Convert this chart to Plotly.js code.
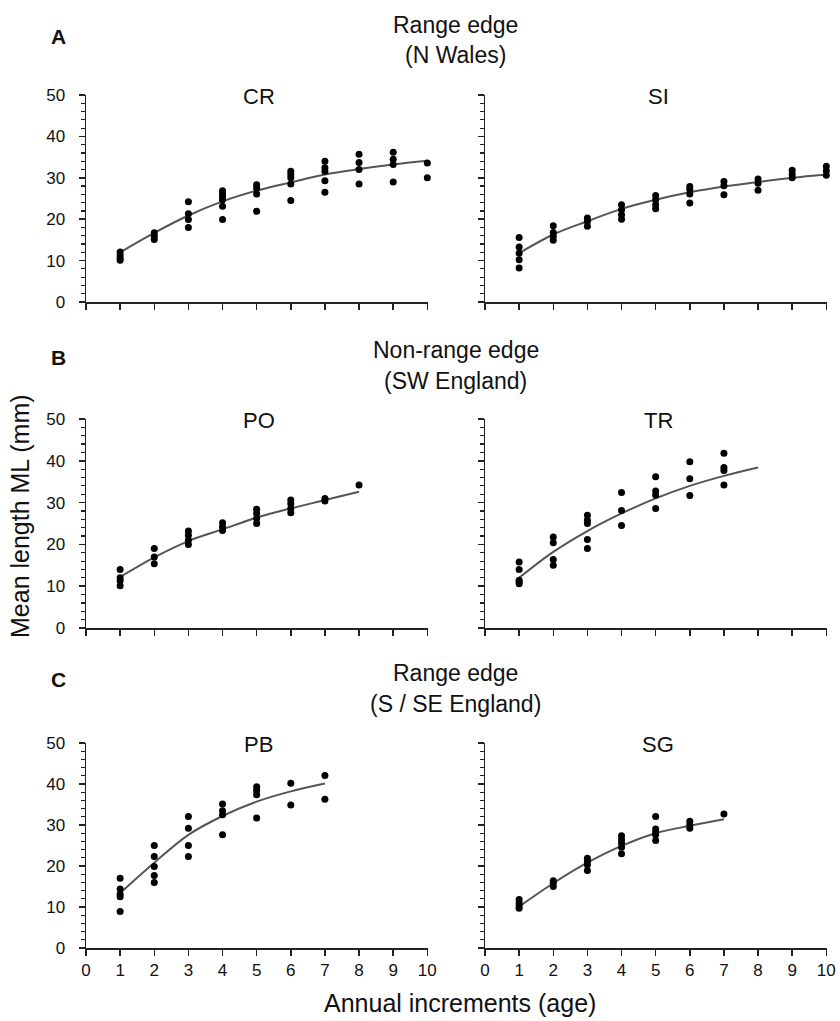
<!DOCTYPE html>
<html><head><meta charset="utf-8">
<script src="https://cdn.plot.ly/plotly-3.0.1.min.js"></script>
<style>html,body{margin:0;padding:0;background:#fff}#chart{width:840px;height:1021px}</style>
</head><body><div id="chart"></div>
<script>
// ---- Data (age in years, mean length ML in mm) ----
const crAge = [1,1,1,1, 2,2,2, 3,3,3,3, 4,4,4,4,4,4, 5,5,5,5, 6,6,6,6,6, 7,7,7,7,7, 8,8,8,8, 9,9,9,9, 10,10];
const crML  = [12.1,11.3,10.6,10.1, 16.7,15.9,15.1, 24.2,21.3,19.9,18.0, 26.9,26.1,25.4,24.7,23.1,19.9, 28.3,27.5,26.1,21.9, 31.6,30.8,30.0,28.5,24.5, 34.0,32.4,31.6,29.3,26.5, 35.7,33.7,32.0,28.5, 36.2,34.5,33.2,29.0, 33.6,30.0];
const crFitAge = [1,2,3,4,5,6,7,8,9,10];
const crFit    = [12.0,16.7,20.9,24.3,26.9,28.9,30.8,32.1,33.2,34.1];

const siAge = [1,1,1,1,1, 2,2,2,2, 3,3,3, 4,4,4,4, 5,5,5,5, 6,6,6,6, 7,7,7, 8,8,8, 9,9,9, 10,10,10];
const siML  = [15.6,13.3,11.8,10.2,8.2, 18.4,16.8,15.9,14.9, 20.3,19.5,18.3, 23.5,22.3,21.1,20.0, 25.7,24.7,23.5,22.5, 27.9,27.1,26.1,23.9, 29.1,28.1,25.9, 29.7,28.7,27.0, 31.8,30.8,30.0, 32.8,31.7,30.6];
const siFitAge = [1,2,3,4,5,6,7,8,9,10];
const siFit    = [11.8,16.3,19.5,22.5,24.7,26.5,27.9,29.0,30.0,30.8];

const poAge = [1,1,1,1, 2,2,2, 3,3,3,3, 4,4,4, 5,5,5,5, 6,6,6,6, 7,7, 8];
const poML  = [14.0,12.0,11.3,10.1, 19.0,17.0,15.4, 23.2,22.2,21.0,20.0, 25.2,24.2,23.3, 28.4,27.4,26.2,25.0, 30.6,29.7,28.6,27.6, 31.0,30.4, 34.2];
const poFitAge = [1,2,3,4,5,6,7,8];
const poFit    = [12.2,16.9,20.8,23.6,26.4,28.6,30.6,32.6];

const trAge = [1,1,1,1,1, 2,2,2,2, 3,3,3,3,3, 4,4,4, 5,5,5,5, 6,6,6, 7,7,7,7];
const trML  = [15.8,14.0,11.4,11.0,10.6, 21.8,20.4,16.4,15.0, 27.0,25.8,25.0,21.2,19.0, 32.4,28.1,24.5, 36.2,32.8,31.8,28.6, 39.8,35.7,31.7, 41.8,38.4,37.7,34.2];
const trFitAge = [1,2,3,4,5,6,7,8];
const trFit    = [12.0,18.2,23.2,27.4,31.0,34.0,36.4,38.4];

const pbAge = [1,1,1,1,1, 2,2,2,2,2, 3,3,3,3, 4,4,4,4, 5,5,5,5, 6,6, 7,7];
const pbML  = [17.0,14.4,13.1,12.5,8.9, 25.0,22.3,19.9,17.7,16.0, 32.1,29.2,25.0,22.3, 35.1,33.5,32.5,27.6, 39.3,38.4,37.4,31.7, 40.2,34.9, 42.1,36.3];
const pbFitAge = [1,2,3,4,5,6,7];
const pbFit    = [13.4,20.8,27.6,32.2,35.7,38.2,40.1];

const sgAge = [1,1,1,1, 2,2,2, 3,3,3,3, 4,4,4,4,4, 5,5,5,5,5, 6,6,6, 7];
const sgML  = [11.8,11.0,10.3,9.7, 16.4,15.8,15.0, 21.9,21.1,20.3,18.9, 27.4,26.4,25.6,24.6,23.0, 32.1,29.0,28.2,27.6,26.2, 30.9,30.0,29.2, 32.7];
const sgFitAge = [1,2,3,4,5,6,7];
const sgFit    = [10.1,15.8,20.8,24.9,28.0,29.8,31.4];

const xTickVals = [0,1,2,3,4,5,6,7,8,9,10];
const yTickVals = [0,10,20,30,40,50];

const panels = [
  {name:'CR', age:crAge, ml:crML, fa:crFitAge, fv:crFit, ax:''},
  {name:'SI', age:siAge, ml:siML, fa:siFitAge, fv:siFit, ax:'2'},
  {name:'PO', age:poAge, ml:poML, fa:poFitAge, fv:poFit, ax:'3'},
  {name:'TR', age:trAge, ml:trML, fa:trFitAge, fv:trFit, ax:'4'},
  {name:'PB', age:pbAge, ml:pbML, fa:pbFitAge, fv:pbFit, ax:'5'},
  {name:'SG', age:sgAge, ml:sgML, fa:sgFitAge, fv:sgFit, ax:'6'}
];

// ---- Layout geometry ----
const FONT = '"Liberation Sans", Arial, sans-serif';
const H = 1021, W = 840;
const py = p => (H - p) / H;
const px = p => p / W;
const xDomL = [px(86), px(428)], xDomR = [px(485), px(827)];
const yDoms = [[py(302), py(95)], [py(628), py(419)], [py(948), py(743)]];

const traces = [];
const layout = {
  width: W, height: H,
  margin: {l:0, r:0, t:0, b:0},
  paper_bgcolor: '#fff', plot_bgcolor: '#fff',
  showlegend: false,
  font: {family: FONT, color: '#111', size: 16},
  annotations: []
};

panels.forEach((p, i) => {
  const row = Math.floor(i / 2), col = i % 2;
  const xa = 'x' + p.ax, ya = 'y' + p.ax;
  traces.push({
    type: 'scatter', mode: 'lines', x: p.fa, y: p.fv, xaxis: xa, yaxis: ya,
    line: {color: '#555', width: 2, shape: 'spline', smoothing: 1}, hoverinfo: 'skip'
  });
  traces.push({
    type: 'scatter', mode: 'markers', x: p.age, y: p.ml, xaxis: xa, yaxis: ya,
    marker: {color: '#000', size: 7}, cliponaxis: false
  });
  const xKey = 'xaxis' + p.ax, yKey = 'yaxis' + p.ax;
  layout[xKey] = {
    domain: col === 0 ? xDomL : xDomR, anchor: ya, range: [0, 10.02],
    tickvals: xTickVals, ticks: 'outside', ticklen: 6, tickwidth: 1.5, tickcolor: '#222',
    showticklabels: row === 2, tickfont: {size: 17, family: FONT},
    showline: true, linecolor: '#222', linewidth: 1.5, showgrid: false, zeroline: false,
    fixedrange: true
  };
  layout[yKey] = {
    domain: yDoms[row], anchor: xa, range: [0, 50],
    tickvals: yTickVals, ticks: 'outside', ticklen: 6, tickwidth: 1.5, tickcolor: '#222',
    minor: {dtick: 2, ticks: 'outside', ticklen: 4, tickwidth: 1.2, tickcolor: '#222', showgrid: false},
    showticklabels: col === 0, tickfont: {size: 17, family: FONT}, ticklabelstandoff: 10,
    showline: true, linecolor: '#222', linewidth: 1.5, showgrid: false, zeroline: false,
    fixedrange: true
  };
  const dom = col === 0 ? xDomL : xDomR;
  layout.annotations.push({
    text: p.name, xref: 'paper', yref: 'paper', x: (dom[0] + dom[1]) / 2 + px(2),
    y: yDoms[row][1] - 0.001, xanchor: 'center', yanchor: 'middle', showarrow: false,
    font: {size: 22, family: FONT, color: '#111'}
  });
});

// group headings
const headings = [
  {letter: 'A', l1: 'Range edge', l2: '(N Wales)', y1: 25, y2: 55, yl: 37},
  {letter: 'B', l1: 'Non-range edge', l2: '(SW England)', y1: 350, y2: 381, yl: 357},
  {letter: 'C', l1: 'Range edge', l2: '(S / SE England)', y1: 673, y2: 704, yl: 680}
];
headings.forEach(h => {
  layout.annotations.push({text: '<b>' + h.letter + '</b>', xref: 'paper', yref: 'paper',
    x: px(58), y: py(h.yl), xanchor: 'center', yanchor: 'middle', showarrow: false,
    font: {size: 21, family: FONT, color: '#111'}});
  layout.annotations.push({text: h.l1, xref: 'paper', yref: 'paper',
    x: px(456), y: py(h.y1), xanchor: 'center', yanchor: 'middle', showarrow: false,
    font: {size: 23, family: FONT, color: '#111'}});
  layout.annotations.push({text: h.l2, xref: 'paper', yref: 'paper',
    x: px(456), y: py(h.y2), xanchor: 'center', yanchor: 'middle', showarrow: false,
    font: {size: 23, family: FONT, color: '#111'}});
});

// axis titles
layout.annotations.push({text: 'Mean length ML (mm)', xref: 'paper', yref: 'paper',
  x: px(20), y: py(516), xanchor: 'center', yanchor: 'middle', textangle: -90, showarrow: false,
  font: {size: 25, family: FONT, color: '#111'}});
layout.annotations.push({text: 'Annual increments (age)', xref: 'paper', yref: 'paper',
  x: px(460), y: py(1003), xanchor: 'center', yanchor: 'middle', showarrow: false,
  font: {size: 25, family: FONT, color: '#111'}});

Plotly.newPlot('chart', traces, layout, {displayModeBar: false, staticPlot: true});
</script></body></html>
